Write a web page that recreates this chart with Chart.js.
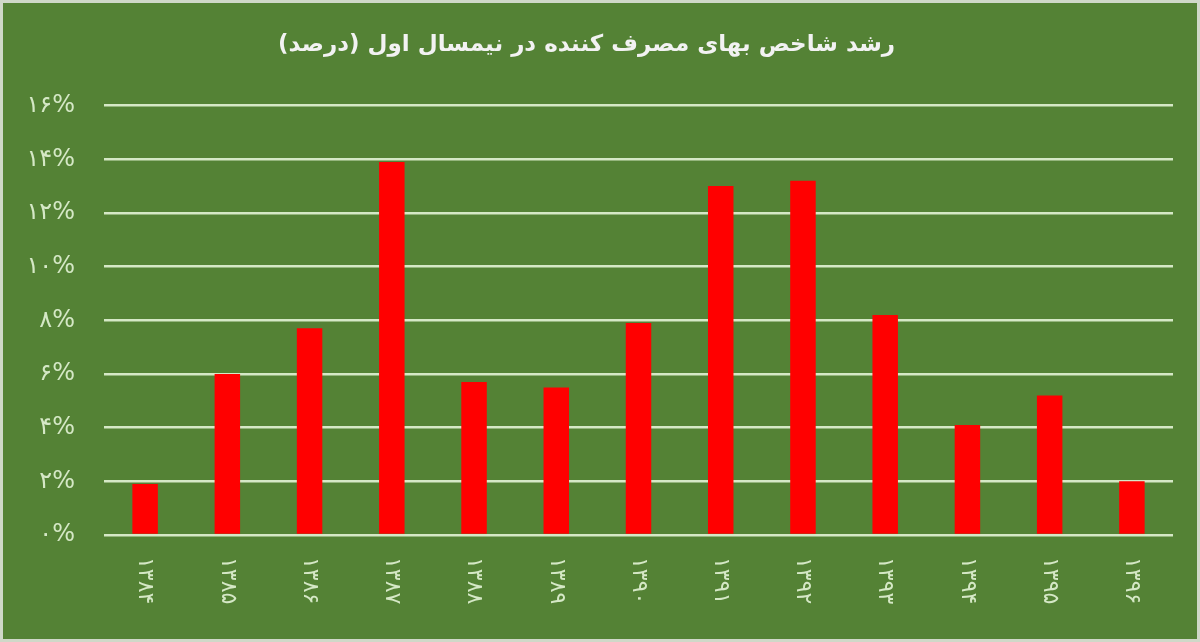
<!DOCTYPE html>
<html>
<head>
<meta charset="utf-8">
<script src="https://cdn.jsdelivr.net/npm/chart.js@4"></script>
<style>
  html, body { margin: 0; padding: 0; background: #548235; }
  #wrap { width: 1200px; height: 642px; }
</style>
</head>
<body>
<div id="wrap"><canvas id="cpi"></canvas></div>
<script>
// Years (solar hijri) on the x axis
const years = ["۱۳۸۴", "۱۳۸۵", "۱۳۸۶", "۱۳۸۷", "۱۳۸۸", "۱۳۸۹", "۱۳۹۰", "۱۳۹۱", "۱۳۹۲", "۱۳۹۳", "۱۳۹۴", "۱۳۹۵", "۱۳۹۶"];
// CPI growth in the first half of the year (percent)
const growth = [1.9, 6.0, 7.7, 13.9, 5.7, 5.5, 7.9, 13.0, 13.2, 8.2, 4.1, 5.2, 2.0];
// Y axis range / step (percent)
const yMin = 0;
const yMax = 16;
const yStep = 2;

const titleText = "رشد شاخص بهای مصرف کننده در نیمسال اول (درصد)";
const bgColor = "#548235";
const lightColor = "#d5e8c6";
const faDigits = "۰۱۲۳۴۵۶۷۸۹";
const toFa = (n) => String(n).replace(/[0-9]/g, (d) => faDigits[d]);

// Background + thin light frame round the whole picture
const backdrop = {
  id: "backdrop",
  beforeDraw(chart) {
    const ctx = chart.ctx;
    ctx.save();
    ctx.fillStyle = bgColor;
    ctx.fillRect(0, 0, chart.width, chart.height);
    ctx.strokeStyle = "#cfd8c8";
    ctx.lineWidth = 3;
    ctx.strokeRect(1.5, 1.5, chart.width - 3, chart.height - 3);
    ctx.restore();
  },
};

// Year labels written top to bottom under each bar
const verticalLabels = {
  id: "verticalLabels",
  afterDraw(chart) {
    const ctx = chart.ctx;
    const xScale = chart.scales.x;
    ctx.save();
    ctx.fillStyle = lightColor;
    ctx.font = "22px 'DejaVu Sans'";
    ctx.textAlign = "left";
    ctx.textBaseline = "middle";
    years.forEach((label, i) => {
      const x = xScale.getPixelForValue(i);
      ctx.save();
      ctx.translate(x, chart.chartArea.bottom + 22);
      ctx.rotate(Math.PI / 2);
      ctx.fillText(label, 0, 0);
      ctx.restore();
    });
    ctx.restore();
  },
};

new Chart(document.getElementById("cpi"), {
  type: "bar",
  plugins: [backdrop, verticalLabels],
  data: {
    labels: years,
    datasets: [
      {
        data: growth,
        backgroundColor: "#ff0000",
        categoryPercentage: 1,
        barPercentage: 0.31,
      },
    ],
  },
  options: {
    responsive: true,
    maintainAspectRatio: false,
    animation: false,
    layout: { padding: { left: 0, right: 27, top: 0, bottom: 0 } },
    plugins: {
      legend: { display: false },
      tooltip: { enabled: false },
      title: {
        display: true,
        text: titleText,
        color: "#f2f2f2",
        font: { family: "DejaVu Sans", size: 23, weight: "bold" },
        padding: { top: 31, bottom: 47 },
      },
    },
    scales: {
      x: {
        grid: { display: false },
        border: { display: false },
        ticks: { display: false },
        afterFit: (scale) => { scale.height = 107; },
      },
      y: {
        min: yMin,
        max: yMax,
        ticks: {
          stepSize: yStep,
          padding: 29,
          color: lightColor,
          font: { family: "DejaVu Sans", size: 24 },
          callback: (v) => toFa(v) + "%",
        },
        grid: { color: lightColor, lineWidth: 2.5, drawTicks: false },
        border: { display: false },
        afterFit: (scale) => { scale.width = 104; },
      },
    },
  },
});
</script>
</body>
</html>
